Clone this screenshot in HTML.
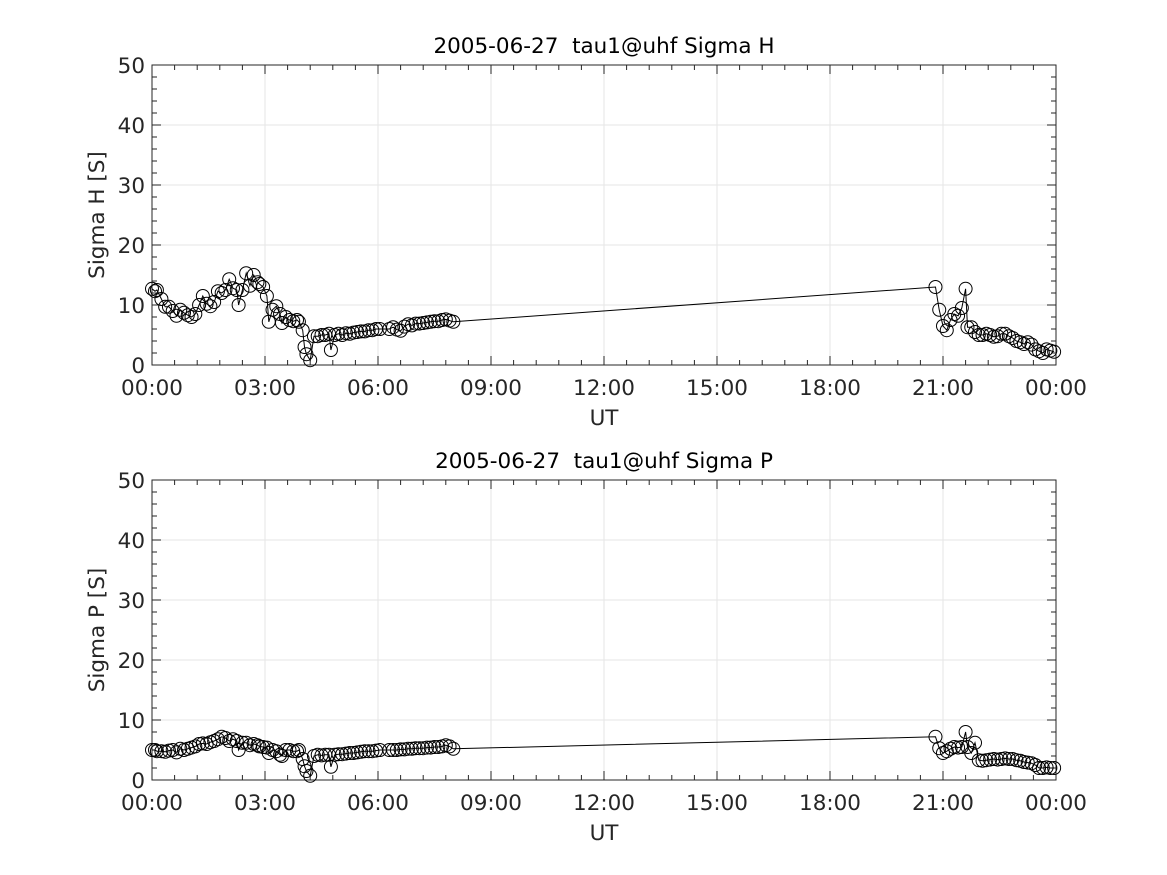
<!DOCTYPE html>
<html><head><meta charset="utf-8"><style>
body{margin:0;background:#fff;}
svg{display:block;font-family:"DejaVu Sans","Liberation Sans",sans-serif;}
text{white-space:pre;}
</style></head><body>
<svg id="c" width="1167" height="875"></svg>
<script>
const xTickLabels=["00:00","03:00","06:00","09:00","12:00","15:00","18:00","21:00","00:00"];
const yTickLabels=["0","10","20","30","40","50"];
const timesA=[0,0.08,0.13,0.25,0.35,0.45,0.55,0.65,0.75,0.85,0.95,1.05,1.15,1.25,1.35,1.45,1.55,1.65,1.75,1.85,1.95,2.05,2.15,2.25,2.3,2.4,2.5,2.6,2.7,2.8,2.85,2.95,3.05,3.1,3.2,3.3,3.4,3.45,3.55,3.65,3.75,3.85,3.9,4.0,4.05,4.1,4.2,4.3,4.4,4.5,4.6,4.7,4.75,4.85,4.95,5.05,5.15,5.25,5.35,5.45,5.55,5.65,5.75,5.85,5.95,6.05,6.3,6.4,6.5,6.6,6.7,6.8,6.9,7.0,7.1,7.2,7.3,7.4,7.5,7.6,7.7,7.8,7.9,8.0,
20.8,20.9,21.0,21.1,21.2,21.3,21.4,21.5,21.6,21.65,21.75,21.85,21.95,22.05,22.15,22.25,22.35,22.45,22.55,22.65,22.75,22.85,22.95,23.05,23.15,23.25,23.35,23.45,23.55,23.65,23.75,23.85,23.95];
const sigmaH=[12.7,12.3,12.5,11,9.7,9.7,9,8.2,9.2,8.7,8.3,8,8.5,10,11.5,10.2,9.8,10.5,12.3,12,12.5,14.3,12.8,12.5,10,12.5,15.3,13.2,15,13.8,13.5,13,11.5,7.2,9.2,9.8,8.5,7,8,7.5,7.3,7.5,7.2,5.8,3,1.8,0.8,4.8,4.8,5.0,5.0,5.2,2.5,5,5.2,5.0,5.3,5.2,5.4,5.5,5.6,5.6,5.8,5.8,6.0,6.0,6.0,6.3,5.9,5.7,6.4,6.8,6.6,6.9,6.9,7.0,7.1,7.2,7.3,7.3,7.5,7.6,7.4,7.2,
13,9.2,6.5,5.8,7.5,8.5,8.2,9.5,12.7,6.3,6.3,5.5,5.0,5.0,5.2,5.0,4.7,4.8,5.2,5.2,4.8,4.5,4.0,3.8,3.5,3.8,3.4,2.6,2.3,2.0,2.6,2.4,2.2];
const sigmaP=[5,5,4.8,4.8,4.7,4.9,5,4.6,5.2,5,5.2,5.4,5.6,6,6.1,6,6.3,6.5,6.8,7.2,7,6.5,6.8,6.5,5,6.2,6.2,5.8,6,5.8,5.6,5.5,5.4,4.5,5,4.8,4.2,4,5,5,4.8,4.8,5,3.5,2.3,1.5,0.7,4,4.2,4.1,4.2,4.2,2.2,4.2,4.3,4.3,4.4,4.5,4.5,4.6,4.7,4.8,4.8,4.8,4.9,5,5,5,5,5.1,5.1,5.2,5.2,5.3,5.3,5.3,5.4,5.4,5.5,5.5,5.6,5.8,5.6,5.2,
7.2,5.3,4.5,4.8,5.2,5.5,5.4,5.5,8,5.5,4.5,6.2,3.3,3.2,3.3,3.4,3.5,3.4,3.5,3.6,3.5,3.5,3.3,3.2,3.0,2.9,2.8,2.5,2.0,2.0,2.1,2.0,2.0];
const panels=[{top:65,title:"2005-06-27  tau1@uhf Sigma H",ylab:"Sigma H [S]",vals:sigmaH,key:"sigma-h"},
{top:480,title:"2005-06-27  tau1@uhf Sigma P",ylab:"Sigma P [S]",vals:sigmaP,key:"sigma-p"}];
const NS="http://www.w3.org/2000/svg",svg=document.getElementById('c');
const L=152,R=1056,H=300,FS=21.5;
function mk(t,a,p){const e=document.createElementNS(NS,t);for(const k in a)e.setAttribute(k,a[k]);(p||svg).appendChild(e);return e;}
const xs=h=>L+(R-L)*h/24;
panels.forEach(pn=>{
  const T=pn.top,B=T+H,ys=v=>B-H*v/50;
  const g=mk('g',{});
  
  
  mk('rect',{x:L,y:T,width:R-L,height:H,fill:'#fff'},g);
  for(let i=0;i<=8;i++){const x=xs(i*3);
    if(i>0&&i<8)mk('line',{x1:x,y1:T,x2:x,y2:B,stroke:'#e6e6e6','stroke-width':1},g);
    const t=mk('text',{x:x,y:B+30,'text-anchor':'middle','font-size':FS,fill:'#262626'},g);t.textContent=xTickLabels[i];
    }
  for(let i=0;i<=5;i++){const y=ys(i*10);
    if(i>0&&i<5)mk('line',{x1:L,y1:y,x2:R,y2:y,stroke:'#e6e6e6','stroke-width':1},g);
    const t=mk('text',{x:L-7,y:y+8,'text-anchor':'end','font-size':FS,fill:'#262626'},g);t.textContent=yTickLabels[i];
    }
  for(let m=0;m<=40;m++){const x=L+(R-L)*m/40,len=m%5==0?9:5;
    mk('line',{x1:x,y1:B,x2:x,y2:B-len,stroke:'#262626'},g);mk('line',{x1:x,y1:T,x2:x,y2:T+len,stroke:'#262626'},g);}
  for(let m=0;m<=25;m++){const y=T+H*m/25,len=m%5==0?9:5;
    mk('line',{x1:L,y1:y,x2:L+len,y2:y,stroke:'#262626'},g);mk('line',{x1:R,y1:y,x2:R-len,y2:y,stroke:'#262626'},g);}
  mk('rect',{x:L,y:T,width:R-L,height:H,fill:'none',stroke:'#262626','stroke-width':1},g);
  const pts=timesA.map((t,i)=>xs(t).toFixed(1)+','+ys(pn.vals[i]).toFixed(1)).join(' ');
  const line=mk('polyline',{points:pts,fill:'none',stroke:'#000','stroke-width':1},g);
  
  timesA.forEach((t,i)=>{const c=mk('circle',{cx:xs(t),cy:ys(pn.vals[i]),r:6.5,fill:'none',stroke:'#000','stroke-width':1},g);
    });
  const ti=mk('text',{x:(L+R)/2,y:T-12,'text-anchor':'middle','font-size':FS,fill:'#000'},g);ti.textContent=pn.title;
  
  const xl=mk('text',{x:(L+R)/2,y:B+60,'text-anchor':'middle','font-size':FS,fill:'#262626'},g);xl.textContent="UT";
  
  const yl=mk('text',{x:0,y:0,'text-anchor':'middle','font-size':FS,fill:'#262626',transform:`translate(104,${T+H/2}) rotate(-90)`},g);yl.textContent=pn.ylab;
  
});
</script>
</body></html>
